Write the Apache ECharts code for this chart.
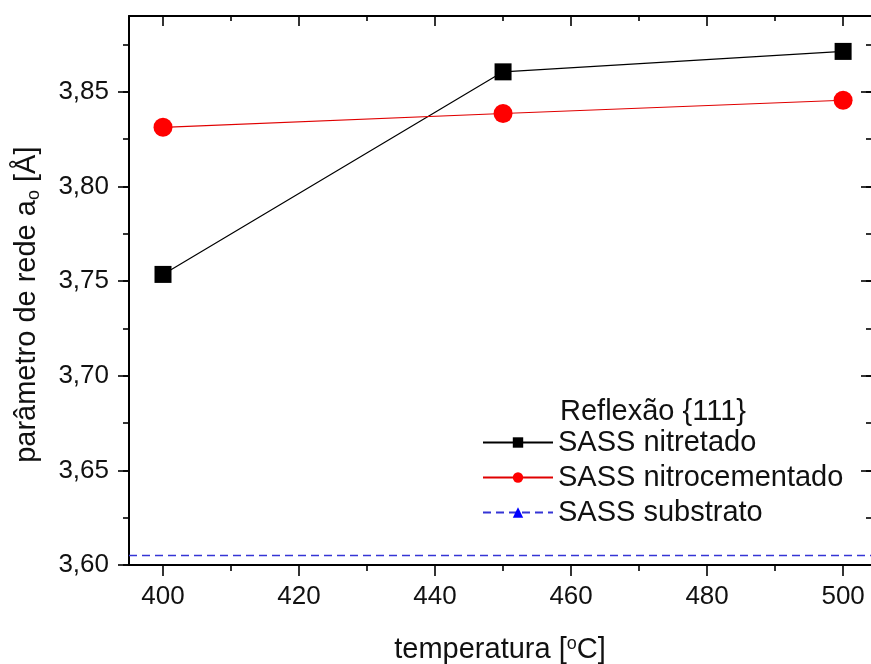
<!DOCTYPE html>
<html>
<head>
<meta charset="utf-8">
<script src="https://cdn.jsdelivr.net/npm/echarts@6/dist/echarts.min.js"></script>
<style>
  html, body { margin: 0; padding: 0; background: #fff; }
  #chart { width: 871px; height: 664px; }
</style>
</head>
<body>
<div id="chart"></div>
<script>
// dados
const temperaturas = [400, 450, 500]
const nitretado = [3.7535, 3.8605, 3.8713]
const nitrocementado = [3.8312, 3.8385, 3.8455]
const substratoX = [395, 504.1]
const substrato = [3.605, 3.605]

// limites dos eixos (a borda direita do grafico original fica cortada)
const X_MIN = 395, X_MAX = 504.1
const Y_MIN = 3.60, Y_MAX = 3.89
const X_TICK_MIN = 400, X_TICK_MAX = 500
const Y_MAJOR_MAX = 3.85, Y_MINOR_MAX = 3.875

const W = 871, H = 664
const LEFT = 129, RIGHT = 0, TOP = 16, BOTTOM = 99
const plotW = W - LEFT - RIGHT
const plotH = H - TOP - BOTTOM
const xPx = v => LEFT + (v - X_MIN) / (X_MAX - X_MIN) * plotW
const yPx = v => (H - BOTTOM) - (v - Y_MIN) / (Y_MAX - Y_MIN) * plotH

const FONT = 'Liberation Sans, Arial, sans-serif'
const fmt = v => v.toFixed(2).replace('.', ',')

const chart = echarts.init(document.getElementById('chart'))

const hiddenX = (grid) => ({ type: 'value', gridIndex: grid, show: false, min: 0, max: 1 })
const hiddenY = (grid) => ({ type: 'value', gridIndex: grid, show: false, min: 0, max: 1 })
const line = { show: true, lineStyle: { color: '#000', width: 2 } }
const tickStyle = { color: '#000', width: 1.6 }

const option = {
  animation: false,
  title: {
    text: 'Reflexão {111}',
    left: 555, top: 392,
    textStyle: { fontFamily: FONT, fontSize: 29, fontWeight: 'normal', color: '#111' }
  },
  legend: {
    orient: 'vertical',
    left: 477, top: 423,
    itemWidth: 70, itemHeight: 13, itemGap: 6,
    textStyle: { fontFamily: FONT, fontSize: 29, color: '#111' },
    data: ['SASS nitretado', 'SASS nitrocementado', 'SASS substrato']
  },
  grid: [
    // dados
    { left: LEFT, right: RIGHT, top: TOP, bottom: BOTTOM, outerBoundsMode: 'none' },
    // marcas do eixo x
    { left: xPx(X_TICK_MIN), right: W - xPx(X_TICK_MAX), top: TOP, bottom: BOTTOM, outerBoundsMode: 'none' },
    // marcas principais do eixo y
    { left: LEFT, right: RIGHT, top: yPx(Y_MAJOR_MAX), bottom: BOTTOM, outerBoundsMode: 'none' },
    // marcas secundarias do eixo y
    { left: LEFT, right: RIGHT, top: yPx(Y_MINOR_MAX), bottom: BOTTOM, outerBoundsMode: 'none' }
  ],
  xAxis: [
    {
      type: 'value', gridIndex: 0, min: X_MIN, max: X_MAX, position: 'bottom',
      axisLine: line, axisTick: { show: false }, axisLabel: { show: false }, splitLine: { show: false },
      name: 'temperatura [{sup|o}C]', nameLocation: 'middle', nameGap: 70,
      nameTextStyle: {
        fontFamily: FONT, fontSize: 29, color: '#111',
        rich: { sup: { fontFamily: FONT, fontSize: 18, color: '#111', verticalAlign: 'top', padding: [0, 0, 12, 0] } }
      }
    },
    {
      type: 'value', gridIndex: 0, min: X_MIN, max: X_MAX, position: 'top',
      axisLine: line, axisTick: { show: false }, axisLabel: { show: false }, splitLine: { show: false }
    },
    {
      type: 'value', gridIndex: 1, min: X_TICK_MIN, max: X_TICK_MAX, interval: 20, position: 'bottom',
      axisLine: { show: false },
      axisTick: { show: true, inside: false, length: 11, lineStyle: tickStyle },
      minorTick: { show: true, splitNumber: 2, length: 6, lineStyle: tickStyle },
      axisLabel: { fontFamily: FONT, fontSize: 26, color: '#111', margin: 19 },
      splitLine: { show: false }
    },
    {
      type: 'value', gridIndex: 1, min: X_TICK_MIN, max: X_TICK_MAX, interval: 20, position: 'top',
      axisLine: { show: false },
      axisTick: { show: true, inside: true, length: 10, lineStyle: tickStyle },
      minorTick: { show: true, splitNumber: 2, length: 5, lineStyle: tickStyle },
      axisLabel: { show: false }, splitLine: { show: false }
    },
    hiddenX(2),
    hiddenX(3)
  ],
  yAxis: [
    {
      type: 'value', gridIndex: 0, min: Y_MIN, max: Y_MAX, position: 'left',
      axisLine: line, axisTick: { show: false }, axisLabel: { show: false }, splitLine: { show: false }
    },
    {
      // linha da direita fica fora da imagem, so as marcas aparecem
      type: 'value', gridIndex: 0, min: Y_MIN, max: Y_MAX, position: 'right',
      axisLine: { show: false }, axisTick: { show: false }, axisLabel: { show: false }, splitLine: { show: false }
    },
    hiddenY(1),
    {
      type: 'value', gridIndex: 2, min: Y_MIN, max: Y_MAJOR_MAX, interval: 0.05, position: 'left',
      axisLine: { show: false },
      axisTick: { show: true, inside: false, length: 11, lineStyle: tickStyle },
      axisLabel: { fontFamily: FONT, fontSize: 26, color: '#111', margin: 20, formatter: fmt },
      splitLine: { show: false }
    },
    {
      type: 'value', gridIndex: 2, min: Y_MIN, max: Y_MAJOR_MAX, interval: 0.05, position: 'right',
      axisLine: { show: false },
      axisTick: { show: true, inside: true, length: 10, lineStyle: tickStyle },
      axisLabel: { show: false }, splitLine: { show: false }
    },
    {
      type: 'value', gridIndex: 3, min: Y_MIN, max: Y_MINOR_MAX, interval: 0.025, position: 'left',
      axisLine: { show: false },
      axisTick: { show: true, inside: false, length: 6, lineStyle: tickStyle },
      axisLabel: { show: false }, splitLine: { show: false },
      name: 'parâmetro de rede a{sub|o} [Å]', nameLocation: 'middle', nameGap: 86,
      nameTextStyle: {
        fontFamily: FONT, fontSize: 29, color: '#111',
        rich: { sub: { fontFamily: FONT, fontSize: 18, color: '#111', verticalAlign: 'bottom', padding: [14, 0, 0, 0] } }
      }
    },
    {
      type: 'value', gridIndex: 3, min: Y_MIN, max: Y_MINOR_MAX, interval: 0.025, position: 'right',
      axisLine: { show: false },
      axisTick: { show: true, inside: true, length: 5, lineStyle: tickStyle },
      axisLabel: { show: false }, splitLine: { show: false }
    }
  ],
  series: [
    {
      name: 'SASS substrato', type: 'line', xAxisIndex: 0, yAxisIndex: 0,
      data: substratoX.map((x, i) => [x, substrato[i]]),
      symbol: 'triangle', symbolSize: 12, showSymbol: false,
      itemStyle: { color: '#0000ff' },
      lineStyle: { color: '#3535d5', width: 1.5, type: [8, 5] },
      clip: true, z: 2
    },
    {
      name: 'SASS nitretado', type: 'line', xAxisIndex: 0, yAxisIndex: 0,
      data: temperaturas.map((x, i) => [x, nitretado[i]]),
      symbol: 'rect', symbolSize: 17,
      itemStyle: { color: '#000' },
      lineStyle: { color: '#000', width: 1.2 },
      z: 3
    },
    {
      name: 'SASS nitrocementado', type: 'line', xAxisIndex: 0, yAxisIndex: 0,
      data: temperaturas.map((x, i) => [x, nitrocementado[i]]),
      symbol: 'circle', symbolSize: 19,
      itemStyle: { color: '#ff0000' },
      lineStyle: { color: '#e00000', width: 1.2 },
      z: 3
    }
  ]
}

chart.setOption(option)
</script>
</body>
</html>
